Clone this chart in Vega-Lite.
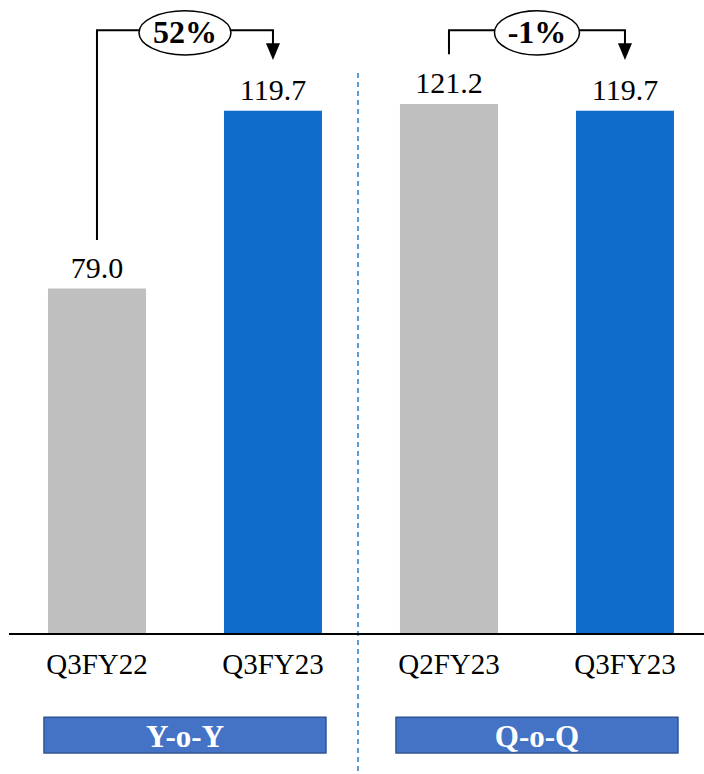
{
  "$schema": "https://vega.github.io/schema/vega-lite/v6.json",
  "width": 704,
  "height": 774,
  "autosize": "none",
  "padding": 0,
  "background": "white",
  "config": {"view": {"stroke": null}, "font": "Liberation Serif"},
  "datasets": {
    "bars": [
      {"period": "Q3FY22", "slot": 0, "value": 79.0, "group": "prior"},
      {"period": "Q3FY23", "slot": 1, "value": 119.7, "group": "current"},
      {"period": "Q2FY23", "slot": 2, "value": 121.2, "group": "prior"},
      {"period": "Q3FY23", "slot": 3, "value": 119.7, "group": "current"}
    ],
    "connectors": [
      {"conn": "yoy", "step": 1, "slot": 0, "level": 90.1},
      {"conn": "yoy", "step": 2, "slot": 0, "level": 138.1},
      {"conn": "yoy", "step": 3, "slot": 1, "level": 138.1},
      {"conn": "yoy", "step": 4, "slot": 1, "level": 134.9},
      {"conn": "qoq", "step": 1, "slot": 2, "level": 132.6},
      {"conn": "qoq", "step": 2, "slot": 2, "level": 138.1},
      {"conn": "qoq", "step": 3, "slot": 3, "level": 138.1},
      {"conn": "qoq", "step": 4, "slot": 3, "level": 134.9}
    ],
    "arrows": [
      {"conn": "yoy", "slot": 1, "level": 133.2},
      {"conn": "qoq", "slot": 3, "level": 133.2}
    ],
    "changes": [
      {"conn": "yoy", "label": "52%", "mid": 0.5, "level": 137.5},
      {"conn": "qoq", "label": "-1%", "mid": 2.5, "level": 137.5}
    ],
    "groups": [
      {"label": "Y-o-Y", "mid": 0.5},
      {"label": "Q-o-Q", "mid": 2.5}
    ]
  },
  "encoding": {
    "x": {"type": "quantitative", "scale": {"domain": [-0.551, 3.449], "nice": false, "zero": false, "padding": 0}, "axis": null},
    "y": {"type": "quantitative", "scale": {"domain": [-32, 145], "nice": false, "zero": false, "padding": 0}, "axis": null}
  },
  "layer": [
    {
      "data": {"name": "bars"},
      "mark": {"type": "bar", "orient": "vertical", "width": 98},
      "encoding": {
        "x": {"field": "slot", "type": "quantitative"},
        "y": {"field": "value", "type": "quantitative"},
        "y2": {"datum": 0},
        "color": {"field": "group", "type": "nominal", "scale": {"domain": ["prior", "current"], "range": ["#BFBFBF", "#0F6CC8"]}, "legend": null}
      }
    },
    {
      "data": {"values": [{}]},
      "mark": {"type": "rule", "color": "#5B9BD5", "strokeWidth": 2, "strokeDash": [5, 4]},
      "encoding": {
        "x": {"datum": 1.483},
        "y": {"datum": 128.3},
        "y2": {"datum": -32}
      }
    },
    {
      "data": {"values": [{}]},
      "mark": {"type": "rule", "color": "black", "strokeWidth": 2},
      "encoding": {
        "x": {"datum": -0.5},
        "x2": {"datum": 3.449},
        "y": {"datum": 0}
      }
    },
    {
      "data": {"name": "bars"},
      "mark": {"type": "text", "fontSize": 30, "baseline": "alphabetic", "align": "center", "dy": -11, "color": "black"},
      "encoding": {
        "x": {"field": "slot", "type": "quantitative"},
        "y": {"field": "value", "type": "quantitative"},
        "text": {"field": "value", "type": "quantitative", "format": ".1f"}
      }
    },
    {
      "data": {"name": "bars"},
      "mark": {"type": "text", "fontSize": 29, "baseline": "alphabetic", "align": "center", "dy": 40, "color": "black"},
      "encoding": {
        "x": {"field": "slot", "type": "quantitative"},
        "y": {"datum": 0},
        "text": {"field": "period", "type": "nominal"}
      }
    },
    {
      "data": {"name": "connectors"},
      "mark": {"type": "line", "color": "black", "strokeWidth": 2, "strokeJoin": "miter"},
      "encoding": {
        "x": {"field": "slot", "type": "quantitative"},
        "y": {"field": "level", "type": "quantitative"},
        "detail": {"field": "conn"},
        "order": {"field": "step", "type": "quantitative"}
      }
    },
    {
      "data": {"name": "arrows"},
      "mark": {"type": "point", "shape": "M-1,-1.2L1,-1.2L0,1.2Z", "size": 196, "filled": true, "color": "black", "opacity": 1},
      "encoding": {
        "x": {"field": "slot", "type": "quantitative"},
        "y": {"field": "level", "type": "quantitative"}
      }
    },
    {
      "data": {"name": "changes"},
      "transform": [{"filter": "datum.conn === 'yoy'"}],
      "mark": {"type": "point", "shape": "M-1,0A1,0.48 0 1,0 1,0A1,0.48 0 1,0 -1,0Z", "size": 8464, "filled": true, "fill": "white", "stroke": "black", "strokeWidth": 1.5, "opacity": 1, "fillOpacity": 1},
      "encoding": {
        "x": {"field": "mid", "type": "quantitative"},
        "y": {"field": "level", "type": "quantitative"}
      }
    },
    {
      "data": {"name": "changes"},
      "transform": [{"filter": "datum.conn === 'qoq'"}],
      "mark": {"type": "point", "shape": "M-1,0A1,0.52 0 1,0 1,0A1,0.52 0 1,0 -1,0Z", "size": 7225, "filled": true, "fill": "white", "stroke": "black", "strokeWidth": 1.5, "opacity": 1, "fillOpacity": 1},
      "encoding": {
        "x": {"field": "mid", "type": "quantitative"},
        "y": {"field": "level", "type": "quantitative"}
      }
    },
    {
      "data": {"name": "changes"},
      "mark": {"type": "text", "fontSize": 32, "fontWeight": "bold", "baseline": "alphabetic", "align": "center", "dy": 10, "color": "black"},
      "encoding": {
        "x": {"field": "mid", "type": "quantitative"},
        "y": {"field": "level", "type": "quantitative"},
        "text": {"field": "label", "type": "nominal"}
      }
    },
    {
      "data": {"name": "groups"},
      "mark": {"type": "bar", "orient": "vertical", "width": 282, "fill": "#4472C4", "stroke": "#2F5597", "strokeWidth": 1.5},
      "encoding": {
        "x": {"field": "mid", "type": "quantitative"},
        "y": {"datum": -19.0},
        "y2": {"datum": -27.2}
      }
    },
    {
      "data": {"name": "groups"},
      "mark": {"type": "text", "fontSize": 31, "fontWeight": "bold", "baseline": "alphabetic", "align": "center", "color": "white"},
      "encoding": {
        "x": {"field": "mid", "type": "quantitative"},
        "y": {"datum": -25.9},
        "text": {"field": "label", "type": "nominal"}
      }
    }
  ]
}
